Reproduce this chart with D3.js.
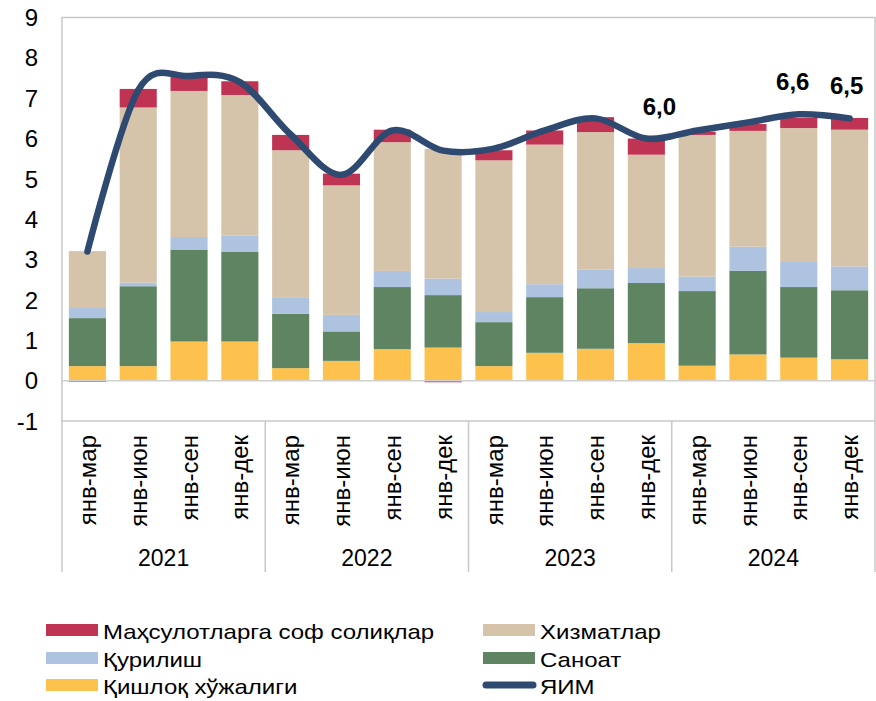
<!DOCTYPE html>
<html>
<head>
<meta charset="utf-8">
<script src="https://cdn.jsdelivr.net/npm/d3@7"></script>
<style>
  body { margin: 0; background: #fff; }
  text { font-family: "Liberation Sans", Arial, sans-serif; fill: #000; }
</style>
</head>
<body>
<div id="canvas"></div>
<script>
"use strict"

/* Data: contributions to GDP growth, p.p. */
let periods = ["янв-мар", "янв-июн", "янв-сен", "янв-дек"];
let years = ["2021", "2022", "2023", "2024"];

let agriculture = [0.36, 0.36, 0.97, 0.97, 0.31, 0.49, 0.78, 0.82, 0.36, 0.69, 0.79, 0.93, 0.37, 0.65, 0.57, 0.53];
let industry = [1.19, 1.98, 2.28, 2.22, 1.35, 0.73, 1.54, 1.30, 1.09, 1.38, 1.50, 1.49, 1.85, 2.07, 1.75, 1.71];
let construction = [0.25, 0.09, 0.31, 0.41, 0.39, 0.41, 0.40, 0.41, 0.25, 0.32, 0.46, 0.37, 0.36, 0.60, 0.62, 0.59];
let services = [1.41, 4.34, 3.62, 3.48, 3.66, 3.21, 3.19, 3.21, 3.76, 3.46, 3.41, 2.81, 3.51, 2.87, 3.32, 3.39];
let taxes = [-0.03, 0.46, 0.36, 0.34, 0.38, 0.29, 0.31, -0.04, 0.25, 0.35, 0.37, 0.40, 0.08, 0.17, 0.25, 0.29];
let gdp = [3.2, 7.2, 7.55, 7.4, 6.1, 5.1, 6.2, 5.7, 5.75, 6.2, 6.5, 6.0, 6.2, 6.4, 6.6, 6.5];

let yTicks = [-1, 0, 1, 2, 3, 4, 5, 6, 7, 8, 9];
let labelled = [11, 14, 15]; // points with a value label

let seriesNames = ["Қишлоқ хўжалиги", "Саноат", "Қурилиш", "Хизматлар", "Маҳсулотларга соф солиқлар"];
let lineName = "ЯИМ";

/* Drawing configuration */
let svgWidth = 876;
let svgHeight = 701;
let plotLeft = 62, plotRight = 875, plotTop = 17.5, plotBottom = 421;
let colors = ["#FDC24E", "#5E8461", "#ADC3DF", "#D6C4AA", "#BF3453"];
let lineColor = "#2F4A70";
let gridGray = "#C8C8C8";

let svg = d3.select("#canvas")
    .append("svg")
    .attr("width", svgWidth)
    .attr("height", svgHeight);

/* Build rows for the stack */
let keys = ["agri", "ind", "con", "serv", "tax"];
let rows = gdp.map(function (g, i) {
    return { i: i, agri: agriculture[i], ind: industry[i], con: construction[i], serv: services[i], tax: taxes[i] };
});
let stacked = d3.stack()
    .keys(keys)
    .offset(d3.stackOffsetDiverging)(rows);

/* Scales */
let xScale = d3.scaleBand()
    .domain(d3.range(gdp.length))
    .range([plotLeft, plotRight])
    .paddingInner(0.27)
    .paddingOuter(0.135);

let yScale = d3.scaleLinear()
    .domain([-1, 9])
    .range([plotBottom, plotTop]);

/* Plot border */
svg.append("rect")
    .attr("x", plotLeft)
    .attr("y", plotTop)
    .attr("width", plotRight - plotLeft)
    .attr("height", plotBottom - plotTop)
    .attr("fill", "none")
    .attr("stroke", gridGray)
    .attr("stroke-width", 1.5);

/* Y axis labels */
svg.append("g")
    .selectAll("text")
    .data(yTicks)
    .join("text")
    .attr("x", 38)
    .attr("y", function (d) { return yScale(d); })
    .attr("dy", "0.36em")
    .attr("text-anchor", "end")
    .style("font-size", "24px")
    .text(function (d) { return d; });

/* Bars */
svg.append("g")
    .selectAll("g")
    .data(stacked)
    .join("g")
    .attr("fill", function (d, k) { return colors[k]; })
    .selectAll("rect")
    .data(function (d) { return d; })
    .join("rect")
    .attr("x", function (d) { return xScale(d.data.i); })
    .attr("width", xScale.bandwidth())
    .attr("y", function (d) { return yScale(Math.max(d[0], d[1])); })
    .attr("height", function (d) { return Math.abs(yScale(d[0]) - yScale(d[1])); });

/* Zero line */
svg.append("line")
    .attr("x1", plotLeft)
    .attr("x2", plotRight)
    .attr("y1", yScale(0))
    .attr("y2", yScale(0))
    .attr("stroke", "#D0D0D0")
    .attr("stroke-width", 1.5);

/* GDP line, smoothed like Excel */
let line = d3.line()
    .x(function (d, i) { return xScale(i) + xScale.bandwidth() / 2; })
    .y(function (d) { return yScale(d); })
    .curve(d3.curveCardinal.tension(0));

svg.append("path")
    .datum(gdp)
    .attr("d", line)
    .attr("fill", "none")
    .attr("stroke", lineColor)
    .attr("stroke-width", 6.5)
    .attr("stroke-linecap", "round")
    .attr("stroke-linejoin", "round");

/* Value labels */
let labelShift = { 11: 13, 14: -6, 15: -3 };
svg.append("g")
    .selectAll("text")
    .data(labelled)
    .join("text")
    .attr("x", function (i) { return xScale(i) + xScale.bandwidth() / 2 + labelShift[i]; })
    .attr("y", function (i) { return yScale(gdp[i]) - 24; })
    .attr("text-anchor", "middle")
    .style("font-size", "24px")
    .style("font-weight", "bold")
    .text(function (i) { return d3.format(".1f")(gdp[i]).replace(".", ","); });

/* Category axis: periods and years */
let catAxis = svg.append("g");
catAxis.selectAll("text")
    .data(gdp)
    .join("text")
    .attr("transform", function (d, i) {
        return "translate(" + (xScale(i) + xScale.bandwidth() / 2) + ",435) rotate(-90)";
    })
    .attr("dy", "0.36em")
    .attr("text-anchor", "end")
    .style("font-size", "24px")
    .text(function (d, i) { return periods[i % 4]; });

let groupEdges = d3.range(years.length + 1).map(function (g) {
    return g === years.length ? plotRight : xScale(g * 4) - xScale.step() * 0.135;
});
catAxis.selectAll("line")
    .data(groupEdges)
    .join("line")
    .attr("x1", function (d) { return d; })
    .attr("x2", function (d) { return d; })
    .attr("y1", plotBottom)
    .attr("y2", 572)
    .attr("stroke", gridGray)
    .attr("stroke-width", 1.5);

catAxis.selectAll("text.year")
    .data(years)
    .join("text")
    .attr("class", "year")
    .attr("x", function (d, g) { return (groupEdges[g] + groupEdges[g + 1]) / 2; })
    .attr("y", 566)
    .attr("text-anchor", "middle")
    .style("font-size", "23px")
    .text(function (d) { return d; });

/* Legend */
let legendItems = [
    { name: seriesNames[4], color: colors[4], x: 46, y: 639 },
    { name: seriesNames[3], color: colors[3], x: 483, y: 639 },
    { name: seriesNames[2], color: colors[2], x: 46, y: 667 },
    { name: seriesNames[1], color: colors[1], x: 483, y: 667 },
    { name: seriesNames[0], color: colors[0], x: 46, y: 694 }
];
let legend = svg.append("g");
legendItems.forEach(function (item) {
    legend.append("rect")
        .attr("x", item.x)
        .attr("y", item.y - 15)
        .attr("width", 52)
        .attr("height", 12)
        .attr("fill", item.color);
    legend.append("text")
        .attr("transform", "translate(" + (item.x + 57) + "," + item.y + ") scale(1.2,1)")
        .style("font-size", "20px")
        .text(item.name);
});
legend.append("line")
    .attr("x1", 486)
    .attr("x2", 533)
    .attr("y1", 685)
    .attr("y2", 685)
    .attr("stroke", lineColor)
    .attr("stroke-width", 7)
    .attr("stroke-linecap", "round");
legend.append("text")
    .attr("transform", "translate(540,694) scale(1.2,1)")
    .style("font-size", "20px")
    .text(lineName);
</script>
</body>
</html>
